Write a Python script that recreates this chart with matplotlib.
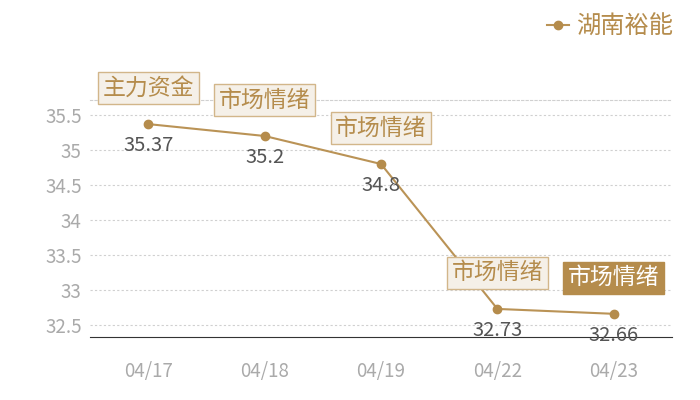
import matplotlib
matplotlib.use("Agg")
import matplotlib.pyplot as plt

plt.rcParams['font.family'] = ['Noto Sans CJK SC', 'DejaVu Sans']

dates = ["04/17", "04/18", "04/19", "04/22", "04/23"]
values = [35.37, 35.2, 34.8, 32.73, 32.66]
tags = ["主力资金", "市场情绪", "市场情绪", "市场情绪", "市场情绪"]
highlight = [False, False, False, False, True]
yticks = [32.5, 33, 33.5, 34, 34.5, 35, 35.5]
ytick_labels = ["32.5", "33", "33.5", "34", "34.5", "35", "35.5"]
series_name = "湖南裕能"

gold = "#b58c4c"
line_col = "#ba9356"

fig = plt.figure(figsize=(7, 4), dpi=100)
ax = fig.add_axes([90/700, 1-337/400, (672-90)/700, (337-100)/400])

x = list(range(len(dates)))
ax.plot(x, values, color=line_col, lw=1.5, marker='o', ms=6, mfc=gold, mec=gold, zorder=3)

ax.set_xlim(-0.5, len(dates) - 0.5)
ax.set_ylim(32.329, 35.714)
ax.set_yticks(yticks)
ax.set_yticklabels(ytick_labels)
ax.set_xticks(x)
ax.set_xticklabels(dates)
ax.tick_params(axis='both', length=0, colors='#aaaaaa', labelsize=13.5)
ax.tick_params(axis='y', pad=6)
ax.tick_params(axis='x', pad=17)
ax.grid(axis='y', color='#d0d0d0', ls=(0, (2, 2)), lw=0.8)
for s in ['left', 'right']:
    ax.spines[s].set_visible(False)
ax.spines['top'].set_color('#d0d0d0')
ax.spines['top'].set_linestyle((0, (2, 2)))
ax.spines['top'].set_linewidth(0.8)
ax.spines['bottom'].set_color('#333333')
ax.spines['bottom'].set_linewidth(0.8)

for xi, v, t, h in zip(x, values, tags, highlight):
    ax.annotate(f"{v:g}", (xi, v), xytext=(0, -8), textcoords='offset points',
                ha='center', va='top', fontsize=14.5, color='#555555', zorder=4)
    if h:
        bbox = dict(boxstyle='square,pad=0.2', fc=gold, ec=gold, lw=1)
        tc = 'white'
    else:
        bbox = dict(boxstyle='square,pad=0.2', fc='#f5f0e8', ec='#d2b68a', lw=1)
        tc = gold
    ax.annotate(t, (xi, v), xytext=(0, 26), textcoords='offset points',
                ha='center', va='center', fontsize=16.5, color=tc, bbox=bbox, zorder=5)

# legend
from matplotlib.lines import Line2D
h = Line2D([], [], color=line_col, lw=1.5, marker='o', ms=6, mfc=gold, mec=gold)
fig.legend([h], [series_name], loc='upper right', bbox_to_anchor=(0.993, 1.02),
           frameon=False, prop={'size': 17.5}, labelcolor=gold, handlelength=0.9,
           handletextpad=0.3)

fig.savefig("out.png", dpi=100)
